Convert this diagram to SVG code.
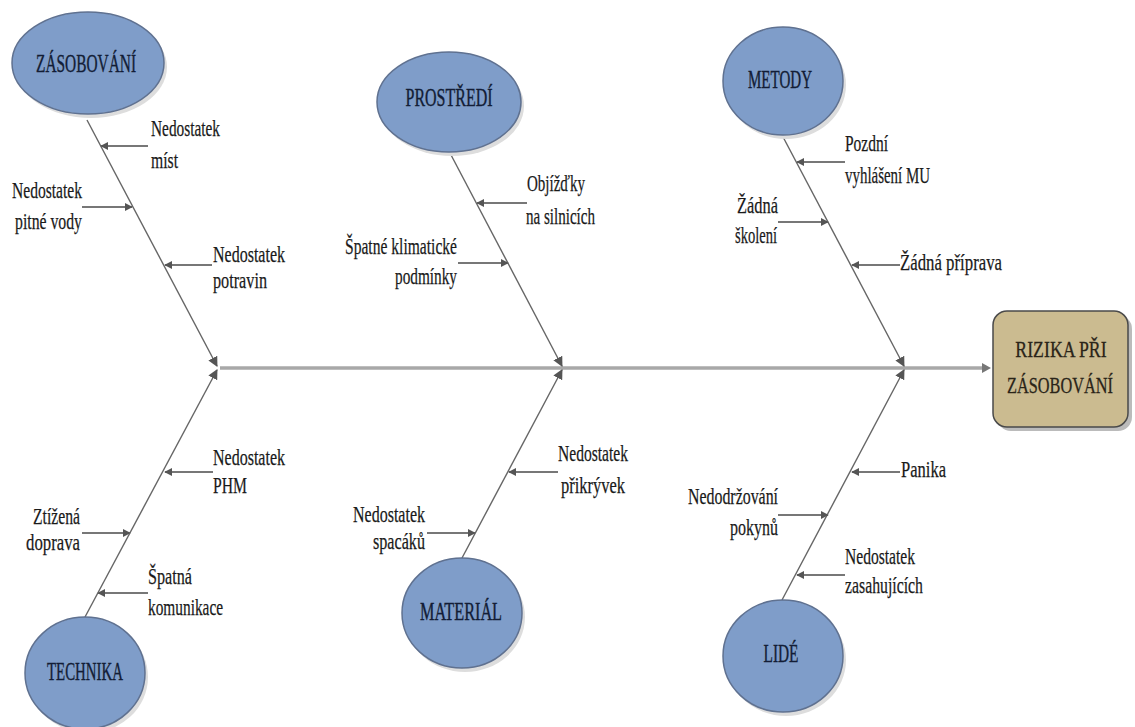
<svg xmlns="http://www.w3.org/2000/svg" width="1135" height="727" viewBox="0 0 1135 727" font-family="'Liberation Serif', 'DejaVu Serif', serif">
<style>
.cat ellipse{fill:#7f9dc9;stroke:#5f7190;stroke-width:1.5}
.cat text{font-family:'Liberation Serif','DejaVu Serif',serif;font-size:26px;fill:#131d36;stroke:#131d36;stroke-width:0.4;text-anchor:middle}
.lbl{font-family:'Liberation Serif','DejaVu Serif',serif;font-size:24px;fill:#1a1a1a;stroke:#1a1a1a;stroke-width:0.25}
.end{text-anchor:end}
.box{font-family:'Liberation Serif','DejaVu Serif',serif;font-size:24px;fill:#2a2418;stroke:#2a2418;stroke-width:0.3;text-anchor:middle}
.bone{stroke:#666;stroke-width:1.4;fill:none}
.sub{stroke:#777;stroke-width:2.2;fill:none}
.spine{stroke:#a8a8a8;stroke-width:3.5;fill:none}
</style>
<defs>
<marker id="ah" viewBox="0 0 10 10" refX="9" refY="5" markerWidth="8" markerHeight="8" markerUnits="userSpaceOnUse" orient="auto">
<path d="M0,0 L10,5 L0,10 z" fill="#555"/>
</marker>
<marker id="ahb" viewBox="0 0 10 10" refX="9" refY="5" markerWidth="10" markerHeight="10" markerUnits="userSpaceOnUse" orient="auto">
<path d="M0,0 L10,5 L0,10 z" fill="#555"/>
</marker>
</defs>
<rect width="1135" height="727" fill="#fff"/>

<g id="connectors">
<line class="spine" x1="220" y1="368" x2="984" y2="368"/>
<path d="M982,363 L991,368 L982,373 z" fill="#777"/>
<line class="bone" x1="87" y1="120" x2="217" y2="366" marker-end="url(#ahb)"/>
<line class="bone" x1="450" y1="153" x2="562" y2="366" marker-end="url(#ahb)"/>
<line class="bone" x1="782" y1="135" x2="904" y2="366" marker-end="url(#ahb)"/>
<line class="bone" x1="85" y1="617" x2="217" y2="370" marker-end="url(#ahb)"/>
<line class="bone" x1="462" y1="558" x2="562" y2="370" marker-end="url(#ahb)"/>
<line class="bone" x1="782" y1="600" x2="904" y2="370" marker-end="url(#ahb)"/>
<line class="sub" x1="148" y1="146" x2="101" y2="146" marker-end="url(#ah)"/>
<line class="sub" x1="82" y1="207" x2="132" y2="207" marker-end="url(#ah)"/>
<line class="sub" x1="212" y1="265" x2="165" y2="265" marker-end="url(#ah)"/>
<line class="sub" x1="527" y1="203" x2="477" y2="203" marker-end="url(#ah)"/>
<line class="sub" x1="458" y1="263" x2="508" y2="263" marker-end="url(#ah)"/>
<line class="sub" x1="845" y1="162" x2="797" y2="162" marker-end="url(#ah)"/>
<line class="sub" x1="778" y1="222" x2="828" y2="222" marker-end="url(#ah)"/>
<line class="sub" x1="900" y1="265" x2="852" y2="265" marker-end="url(#ah)"/>
<line class="sub" x1="213" y1="472" x2="165" y2="472" marker-end="url(#ah)"/>
<line class="sub" x1="82" y1="533" x2="130" y2="533" marker-end="url(#ah)"/>
<line class="sub" x1="148" y1="593" x2="98" y2="593" marker-end="url(#ah)"/>
<line class="sub" x1="558" y1="472" x2="509" y2="472" marker-end="url(#ah)"/>
<line class="sub" x1="427" y1="533" x2="475" y2="533" marker-end="url(#ah)"/>
<line class="sub" x1="900" y1="472" x2="852" y2="472" marker-end="url(#ah)"/>
<line class="sub" x1="778" y1="515" x2="828" y2="515" marker-end="url(#ah)"/>
<line class="sub" x1="845" y1="575" x2="797" y2="575" marker-end="url(#ah)"/>
</g>

<g id="zasobovani" class="cat">
<ellipse cx="91" cy="67" rx="76" ry="51" style="fill:#ddd;stroke:none"/>
<ellipse cx="88" cy="63" rx="76" ry="51"/>
<text x="86" y="72" textLength="100" lengthAdjust="spacingAndGlyphs">ZÁSOBOVÁNÍ</text>
</g>
<g id="prostredi" class="cat">
<ellipse cx="452" cy="106" rx="72" ry="50" style="fill:#ddd;stroke:none"/>
<ellipse cx="449" cy="102" rx="72" ry="50"/>
<text x="449" y="106" textLength="87" lengthAdjust="spacingAndGlyphs">PROSTŘEDÍ</text>
</g>
<g id="metody" class="cat">
<ellipse cx="786" cy="85" rx="60" ry="54" style="fill:#ddd;stroke:none"/>
<ellipse cx="783" cy="81" rx="60" ry="54"/>
<text x="780" y="88" textLength="64" lengthAdjust="spacingAndGlyphs">METODY</text>
</g>
<g id="technika" class="cat">
<ellipse cx="88" cy="677" rx="60" ry="56" style="fill:#ddd;stroke:none"/>
<ellipse cx="85" cy="673" rx="60" ry="56"/>
<text x="85" y="680" textLength="76" lengthAdjust="spacingAndGlyphs">TECHNIKA</text>
</g>
<g id="material" class="cat">
<ellipse cx="465" cy="617" rx="60" ry="55" style="fill:#ddd;stroke:none"/>
<ellipse cx="462" cy="613" rx="60" ry="55"/>
<text x="461" y="620" textLength="82" lengthAdjust="spacingAndGlyphs">MATERIÁL</text>
</g>
<g id="lide" class="cat">
<ellipse cx="786" cy="660" rx="60" ry="56" style="fill:#ddd;stroke:none"/>
<ellipse cx="783" cy="656" rx="60" ry="56"/>
<text x="781" y="662" textLength="35" lengthAdjust="spacingAndGlyphs">LIDÉ</text>
</g>

<g id="rizika">
<rect x="997" y="315" width="135" height="116" rx="14" fill="#bbb"/>
<rect x="993" y="311" width="135" height="116" rx="14" fill="#cbbb90" stroke="#4a4a4a" stroke-width="1.5"/>
<text class="box" transform="translate(1061,357) scale(0.74,1)">RIZIKA PŘI</text>
<text class="box" transform="translate(1060,393) scale(0.68,1)">ZÁSOBOVÁNÍ</text>
</g>

<g id="labels-zasobovani">
<text class="lbl" x="151" y="136" textLength="69" lengthAdjust="spacingAndGlyphs">Nedostatek</text>
<text class="lbl" x="151" y="168" textLength="27" lengthAdjust="spacingAndGlyphs">míst</text>
<text class="lbl end" x="82" y="198" textLength="70" lengthAdjust="spacingAndGlyphs">Nedostatek</text>
<text class="lbl end" x="82" y="229" textLength="67" lengthAdjust="spacingAndGlyphs">pitné vody</text>
<text class="lbl" x="213" y="262" textLength="72" lengthAdjust="spacingAndGlyphs">Nedostatek</text>
<text class="lbl" x="213" y="288" textLength="54" lengthAdjust="spacingAndGlyphs">potravin</text>
</g>
<g id="labels-prostredi">
<text class="lbl" x="527" y="191" textLength="58" lengthAdjust="spacingAndGlyphs">Objížďky</text>
<text class="lbl" x="526" y="224" textLength="69" lengthAdjust="spacingAndGlyphs">na silnicích</text>
<text class="lbl end" x="457" y="254" textLength="112" lengthAdjust="spacingAndGlyphs">Špatné klimatické</text>
<text class="lbl end" x="457" y="284" textLength="62" lengthAdjust="spacingAndGlyphs">podmínky</text>
</g>
<g id="labels-metody">
<text class="lbl" x="845" y="151" textLength="43" lengthAdjust="spacingAndGlyphs">Pozdní</text>
<text class="lbl" x="845" y="183" textLength="85" lengthAdjust="spacingAndGlyphs">vyhlášení MU</text>
<text class="lbl" x="737" y="213" textLength="41" lengthAdjust="spacingAndGlyphs">Žádná</text>
<text class="lbl" x="735" y="243" textLength="42" lengthAdjust="spacingAndGlyphs">školení</text>
<text class="lbl" x="900" y="270" textLength="102" lengthAdjust="spacingAndGlyphs">Žádná příprava</text>
</g>
<g id="labels-technika">
<text class="lbl" x="213" y="465" textLength="72" lengthAdjust="spacingAndGlyphs">Nedostatek</text>
<text class="lbl" x="213" y="493" textLength="34" lengthAdjust="spacingAndGlyphs">PHM</text>
<text class="lbl end" x="80" y="524" textLength="47" lengthAdjust="spacingAndGlyphs">Ztížená</text>
<text class="lbl end" x="80" y="550" textLength="54" lengthAdjust="spacingAndGlyphs">doprava</text>
<text class="lbl" x="148" y="584" textLength="44" lengthAdjust="spacingAndGlyphs">Špatná</text>
<text class="lbl" x="148" y="615" textLength="75" lengthAdjust="spacingAndGlyphs">komunikace</text>
</g>
<g id="labels-material">
<text class="lbl" x="558" y="461" textLength="70" lengthAdjust="spacingAndGlyphs">Nedostatek</text>
<text class="lbl" x="561" y="493" textLength="64" lengthAdjust="spacingAndGlyphs">přikrývek</text>
<text class="lbl end" x="425" y="522" textLength="72" lengthAdjust="spacingAndGlyphs">Nedostatek</text>
<text class="lbl end" x="425" y="549" textLength="52" lengthAdjust="spacingAndGlyphs">spacáků</text>
</g>
<g id="labels-lide">
<text class="lbl" x="901" y="477" textLength="45" lengthAdjust="spacingAndGlyphs">Panika</text>
<text class="lbl end" x="778" y="504" textLength="90" lengthAdjust="spacingAndGlyphs">Nedodržování</text>
<text class="lbl end" x="778" y="535" textLength="48" lengthAdjust="spacingAndGlyphs">pokynů</text>
<text class="lbl" x="845" y="564" textLength="70" lengthAdjust="spacingAndGlyphs">Nedostatek</text>
<text class="lbl" x="845" y="593" textLength="78" lengthAdjust="spacingAndGlyphs">zasahujících</text>
</g>
</svg>
